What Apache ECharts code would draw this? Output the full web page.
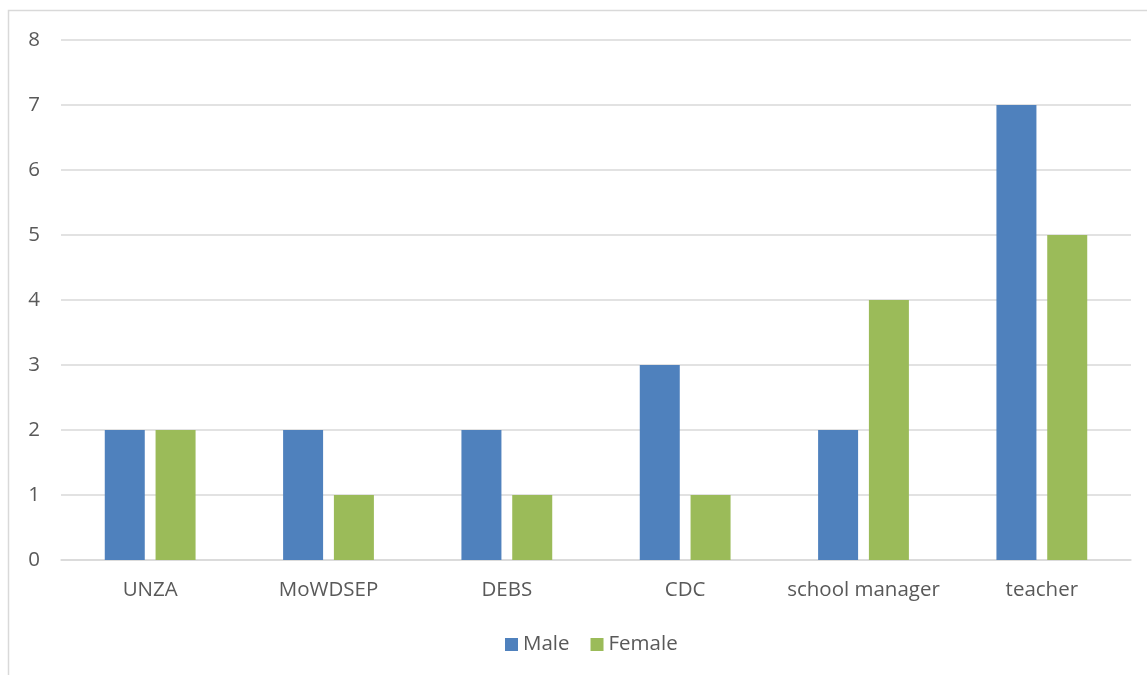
<!DOCTYPE html>
<html><head><meta charset="utf-8">
<script src="https://cdn.jsdelivr.net/npm/echarts@6/dist/echarts.min.js"></script>
<style>html,body{margin:0;padding:0;background:#fff}#c{width:1147px;height:675px}</style>
</head><body><div id="c"></div>
<script>
var categories = ['UNZA','MoWDSEP','DEBS','CDC','school manager','teacher'];
var maleValues = [2,2,2,3,2,7];
var femaleValues = [2,1,1,1,4,5];
var yTicks = [0,1,2,3,4,5,6,7,8];

var chart = echarts.init(document.getElementById('c'), null, {renderer:'canvas'});
var font = '"Open Sans", "Noto Sans", sans-serif';
chart.setOption({
  animation:false,
  backgroundColor:'#fff',
  graphic:[{type:'rect',shape:{x:8.5,y:10.5,width:1200,height:700},style:{fill:'none',stroke:'#d9d9d9',lineWidth:1.5},silent:true}],
  grid:{left:61,right:16,top:40,bottom:115,containLabel:false},
  legend:{bottom:15,left:500,itemWidth:13,itemHeight:13,itemGap:21,icon:'rect',
    textStyle:{color:'#595959',fontSize:20.5,fontFamily:font},
    data:['Male','Female']},
  xAxis:{type:'category',data:categories,
    axisLine:{lineStyle:{color:'#d9d9d9',width:1.5}},axisTick:{show:false},
    axisLabel:{color:'#595959',fontSize:20.5,fontFamily:font,margin:20,interval:0,hideOverlap:false}},
  yAxis:{type:'value',min:0,max:8,interval:1,
    axisLine:{show:false},axisTick:{show:false},
    splitLine:{lineStyle:{color:'#d9d9d9',width:1.5}},
    axisLabel:{color:'#595959',fontSize:20.5,fontFamily:font,margin:21,
      formatter:function(v){return yTicks.indexOf(v)>=0?String(v):'';}}},
  series:[
    {name:'Male',type:'bar',data:maleValues,barWidth:40,barGap:'27%',itemStyle:{color:'#4f81bd'}},
    {name:'Female',type:'bar',data:femaleValues,barWidth:40,itemStyle:{color:'#9bbb59'}}
  ]
});
</script></body></html>
